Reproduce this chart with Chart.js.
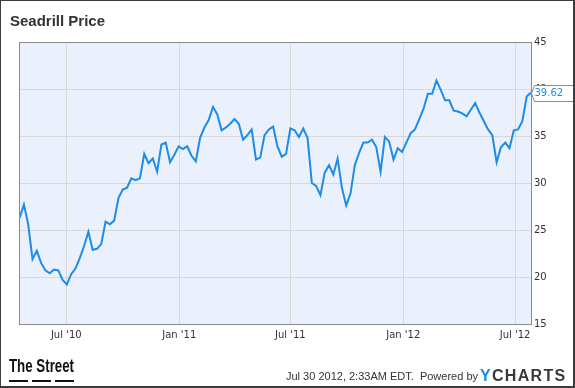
<!DOCTYPE html>
<html>
<head>
<meta charset="utf-8">
<script src="https://cdn.jsdelivr.net/npm/chart.js@4.4.1/dist/chart.umd.min.js"></script>
<style>
  body { margin: 0; background: #fff; }
  #wrap { position: relative; width: 575px; height: 388px; background: #fff; overflow: hidden; }
  #c { position: absolute; left: 0; top: 0; }
  .title { position: absolute; left: 10px; top: 12px; font: bold 15px "Liberation Sans", Arial, sans-serif; color: #333; }
  .street { position: absolute; left: 9px; top: 355px; font: bold 19px "Liberation Sans", Arial, sans-serif; color: #111;
            transform: scaleX(0.7); transform-origin: 0 0; white-space: nowrap; }
  .bar { position: absolute; top: 380px; height: 2px; background: #111; }
  .stamp { position: absolute; left: 286px; top: 370px; font: 11px "Liberation Sans", Arial, sans-serif; color: #333; white-space: nowrap; }
  .ych { position: absolute; left: 480px; top: 367px; font: bold 16px "Liberation Sans", Arial, sans-serif; letter-spacing: 1.3px; color: #3a3a3a; white-space: nowrap; }
  .ych b { color: #1e8ce6; }
  .frame { position: absolute; left: 0; top: 0; right: 0; bottom: 0; border-style: solid; border-color: #3c3c3c;
           border-width: 1px 2px 2px 1px; pointer-events: none; }
</style>
</head>
<body>
<div id="wrap">
  <canvas id="c" width="575" height="388"></canvas>
  <div class="title">Seadrill Price</div>
  <div class="street">The Street</div>
  <div class="bar" style="left:9px;width:19px"></div>
  <div class="bar" style="left:32px;width:19px"></div>
  <div class="bar" style="left:55px;width:19px"></div>
  <div class="stamp">Jul 30 2012, 2:33AM EDT.&nbsp; Powered by</div>
  <div class="ych"><b>Y</b>CHARTS</div>
  <div class="frame"></div>
</div>
<script>
// weekly closes, first one on startDate
const startDate = '2010-04-16';
const weeklyPrices = [
  26.3, 27.7, 25.6, 21.9, 22.8, 21.5, 20.7, 20.4, 20.8, 20.7,
  19.7, 19.2, 20.3, 20.9, 22.0, 23.3, 24.8, 22.9, 23.0, 23.5,
  25.9, 25.6, 26.0, 28.4, 29.3, 29.5, 30.5, 30.3, 30.5,
  33.1, 32.1, 32.6, 31.2, 34.1, 34.3, 32.2, 33.0, 33.9, 33.6,
  33.9, 32.9, 32.3, 34.8, 35.9, 36.7, 38.1, 37.3, 35.6, 35.9,
  36.3, 36.8, 36.3, 34.6, 35.1, 35.7, 32.5, 32.7, 35.1, 35.7,
  36.0, 33.9, 32.8, 33.1, 35.8, 35.6, 34.9, 35.8, 34.8, 30.0,
  29.7, 28.7, 31.1, 31.9, 30.9, 32.6, 29.5, 27.6, 28.9, 31.9,
  33.2, 34.3, 34.3, 34.6, 33.8, 31.2, 34.9, 34.4, 32.5, 33.7,
  33.3, 34.3, 35.3, 35.7, 36.8, 37.9, 39.5, 39.5, 40.9, 39.9,
  38.8, 38.8, 37.7, 37.6, 37.4, 37.1, 37.8, 38.5, 37.5, 36.6,
  35.7, 35.1, 32.2, 33.8, 34.3, 33.7, 35.6, 35.7, 36.6, 39.2, 39.62
];
const tickDates = ['2010-07-01', '2011-01-01', '2011-07-01', '2012-01-01', '2012-07-01'];
const tickLabels = ["Jul '10", "Jan '11", "Jul '11", "Jan '12", "Jul '12"];
const yTicks = [15, 20, 25, 30, 35, 40, 45];

const dayOf = s => (Date.parse(s) - Date.parse(startDate)) / 864e5;
const points = weeklyPrices.map((v, i) => ({ x: i * 7, y: v }));
const lastPrice = weeklyPrices[weeklyPrices.length - 1];

const plotDeco = {
  id: 'plotDeco',
  beforeDraw(chart) {
    const { ctx, chartArea: a } = chart;
    ctx.save();
    ctx.fillStyle = '#eaf1fc';
    ctx.fillRect(a.left, a.top, a.right - a.left, a.bottom - a.top);
    ctx.restore();
  },
  afterDraw(chart) {
    const { ctx, chartArea: a } = chart;
    ctx.save();
    ctx.strokeStyle = '#8a8a8a';
    ctx.lineWidth = 1;
    ctx.strokeRect(a.left + 0.5, a.top + 0.5, a.right - a.left, a.bottom - a.top);

    // last value flag
    const y = Math.round(chart.scales.y.getPixelForValue(lastPrice)) + 0.5;
    const x0 = a.right + 0.5;
    ctx.beginPath();
    ctx.moveTo(x0, y);
    ctx.lineTo(x0 + 3, y - 8);
    ctx.lineTo(576, y - 8);
    ctx.lineTo(576, y + 8);
    ctx.lineTo(x0 + 3, y + 8);
    ctx.closePath();
    ctx.fillStyle = '#fff';
    ctx.fill();
    ctx.strokeStyle = '#8a8a8a';
    ctx.stroke();
    ctx.fillStyle = '#1e8ce6';
    ctx.font = "10px 'DejaVu Sans'";
    ctx.textBaseline = 'middle';
    ctx.fillText(lastPrice.toFixed(2), x0 + 3, y);
    ctx.restore();
  }
};

Chart.defaults.font.family = "'DejaVu Sans', sans-serif";
Chart.defaults.font.size = 10;
Chart.defaults.color = '#333';

new Chart(document.getElementById('c'), {
  type: 'line',
  data: {
    datasets: [{
      data: points,
      borderColor: '#1e8ce6',
      borderWidth: 2,
      pointRadius: 0,
      tension: 0,
      fill: false
    }]
  },
  options: {
    responsive: false,
    animation: false,
    devicePixelRatio: 1,
    layout: { padding: { left: 19, top: 42, right: 0, bottom: 0 } },
    plugins: { legend: { display: false }, tooltip: { enabled: false } },
    scales: {
      x: {
        type: 'linear',
        min: -1,
        max: 833,
        afterBuildTicks: s => { s.ticks = tickDates.map(d => ({ value: dayOf(d) })); },
        afterFit: s => { s.height = 64; },
        ticks: { callback: (v, i) => tickLabels[i], autoSkip: false, maxRotation: 0, padding: 5 },
        grid: { color: '#d8d8d8', drawTicks: false },
        border: { display: false }
      },
      y: {
        position: 'right',
        min: 15,
        max: 45,
        afterBuildTicks: s => { s.ticks = yTicks.map(v => ({ value: v })); },
        afterFit: s => { s.width = 44; },
        ticks: { padding: 3 },
        grid: { color: '#d8d8d8', drawTicks: false },
        border: { display: false }
      }
    }
  },
  plugins: [plotDeco]
});
</script>
</body>
</html>
